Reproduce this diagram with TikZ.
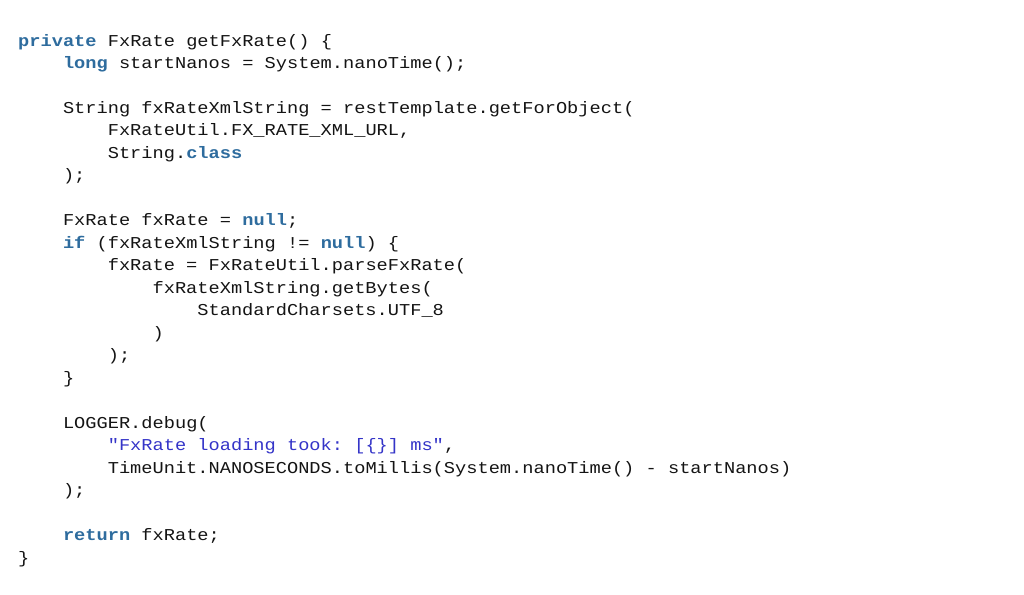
\documentclass[tikz,border=0pt]{standalone}
\usepackage{fontspec}
\setmonofont[FakeStretch=1.125]{Liberation Mono}
\usepackage{xcolor}
\definecolor{kwc}{RGB}{46,108,158}
\definecolor{strc}{RGB}{52,52,200}
\definecolor{txtc}{RGB}{20,20,20}
\newcommand\kwd[1]{{\bfseries\color{kwc}#1}}
\newcommand\strl[1]{{\color{strc}#1}}
\tikzset{codeline/.style={anchor=base west,inner sep=0pt,font=\ttfamily\fontsize{16.6}{20}\selectfont,text=txtc}}
\begin{document}
\begin{tikzpicture}[x=1pt,y=1pt]
\useasboundingbox[fill=white] (0,0) rectangle (1024,-594);
\def\cw{11.2}
\def\ls{22.48}
\def\top{46}
\newcommand\cl[4]{\node[codeline] (#1) at ({18+#2*4*\cw},{-\top-(#3-1)*\ls}) {#4};}
\cl{l1}{0}{1}{\kwd{private} FxRate getFxRate() \{}
\cl{l2}{1}{2}{\kwd{long} startNanos = System.nanoTime();}
\cl{l4}{1}{4}{String fxRateXmlString = restTemplate.getForObject(}
\cl{l5}{2}{5}{FxRateUtil.FX\_RATE\_XML\_URL,}
\cl{l6}{2}{6}{String.\kwd{class}}
\cl{l7}{1}{7}{);}
\cl{l9}{1}{9}{FxRate fxRate = \kwd{null};}
\cl{l10}{1}{10}{\kwd{if} (fxRateXmlString != \kwd{null}) \{}
\cl{l11}{2}{11}{fxRate = FxRateUtil.parseFxRate(}
\cl{l12}{3}{12}{fxRateXmlString.getBytes(}
\cl{l13}{4}{13}{StandardCharsets.UTF\_8}
\cl{l14}{3}{14}{)}
\cl{l15}{2}{15}{);}
\cl{l16}{1}{16}{\}}
\cl{l18}{1}{18}{LOGGER.debug(}
\cl{l19}{2}{19}{\strl{"FxRate loading took: [\{\}] ms"},}
\cl{l20}{2}{20}{TimeUnit.NANOSECONDS.toMillis(System.nanoTime() - startNanos)}
\cl{l21}{1}{21}{);}
\cl{l23}{1}{23}{\kwd{return} fxRate;}
\cl{l24}{0}{24}{\}}
\end{tikzpicture}
\end{document}
